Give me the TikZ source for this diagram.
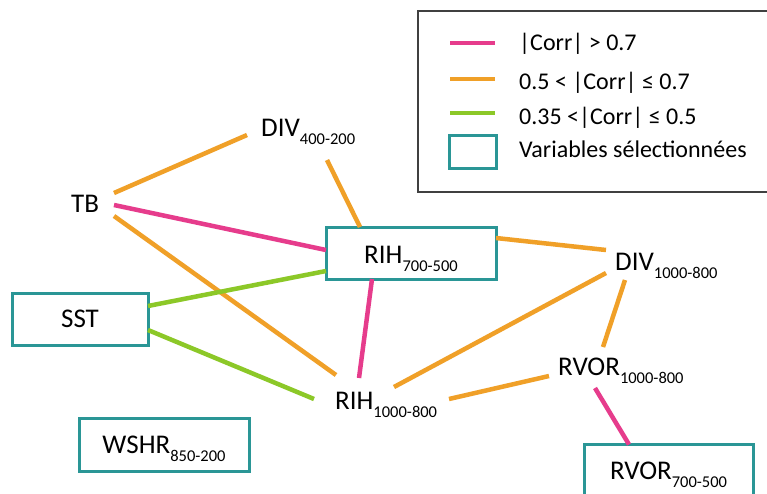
\documentclass[tikz,border=0pt]{standalone}
\usepackage{fontspec}
\setmainfont{Carlito}
\usetikzlibrary{calc}
\definecolor{cpink}{HTML}{E63C8C}
\definecolor{corange}{HTML}{F0A028}
\definecolor{cgreen}{HTML}{8CC828}
\definecolor{cteal}{HTML}{2A9696}
\definecolor{cframe}{HTML}{404040}
\newcommand\subs[1]{\raisebox{-8pt}{\fontsize{16.5}{18}\selectfont #1}}
\begin{document}
\begin{tikzpicture}[x=1pt,y=-1pt,
  lbl/.style={inner sep=0pt, anchor=base west, font=\fontsize{27}{30}\selectfont},
  vbox/.style={draw=cteal, line width=3pt, inner sep=0pt, font=\fontsize{27}{30}\selectfont, text depth=0pt},
  strong/.style={draw=cpink, line width=4.5pt},
  medium/.style={draw=corange, line width=4.5pt},
  weak/.style={draw=cgreen, line width=4.5pt},
  legtext/.style={inner sep=0pt, anchor=base west, font=\fontsize{24}{28}\selectfont}]
\clip (0,0) rectangle (767,493);
\fill[white] (0,0) rectangle (767,493);
% legend
\draw[cframe, line width=1.5pt] (418,11) rectangle (780,192);
\draw[strong] (450,43) -- (495,43);
\draw[medium] (450,79) -- (495,79);
\draw[weak] (450,113) -- (495,113);
\draw[cteal, line width=3pt] (449,135) rectangle (496,168);
\node[legtext] (l1) at (519,50) {|Corr| > 0.7};
\node[legtext] (l2) at (519,89) {0.5 < |Corr| ≤ 0.7};
\node[legtext] (l3) at (519,124) {0.35 <|Corr| ≤ 0.5};
\node[legtext] (l4) at (519,157) {Variables sélectionnées};
% variables
\node[lbl] (tb) at (71,212) {TB};
\node[lbl] (div4) at (261,136) {DIV\subs{400-200}};
\node[lbl] (div1) at (615,270) {DIV\subs{1000-800}};
\node[lbl] (rvor1) at (558,375) {RVOR\subs{1000-800}};
\node[lbl] (rih1) at (335,409) {RIH\subs{1000-800}};
\node[vbox, minimum width=170pt, minimum height=52pt, text height=20pt] (rih7) at (411,253) {RIH\subs{700-500}};
\node[vbox, minimum width=136pt, minimum height=52pt, text height=16pt] (sst) at (80,319) {SST};
\node[vbox, minimum width=170pt, minimum height=53pt, text height=17pt] (wshr) at (164,444.5) {WSHR\subs{850-200}};
\node[vbox, minimum width=169pt, minimum height=53pt, text height=17pt] (rvor7) at (668.5,470.5) {RVOR\subs{700-500}};
% connectors
\draw[medium] ($(tb.base west)+(43,-19)$) -- ($(div4.base west)+(-14,-1)$);
\draw[strong] ($(tb.base west)+(43,-7)$) -- ($(rih7.center)+(-85,-3)$);
\draw[medium] ($(tb.base west)+(43,4)$) -- ($(rih1.base west)+(1,-34)$);
\draw[medium] ($(div4.base west)+(66,24)$) -- ($(rih7.center)+(-51,-26)$);
\draw[medium] ($(rih7.center)+(85,-15)$) -- ($(div1.base west)+(-9,-20)$);
\draw[strong] ($(rih7.center)+(-39,26)$) -- ($(rih1.base west)+(24,-31)$);
\draw[weak] ($(sst.center)+(68,-13)$) -- ($(rih7.center)+(-85,18)$);
\draw[weak] ($(sst.center)+(68,11)$) -- ($(rih1.base west)+(-21,-10)$);
\draw[medium] ($(rih1.base west)+(59,-22)$) -- ($(div1.base west)+(-9,3)$);
\draw[medium] ($(rih1.base west)+(114,-10)$) -- ($(rvor1.base west)+(-9,1)$);
\draw[medium] ($(div1.base west)+(10,10)$) -- ($(rvor1.base west)+(45,-28)$);
\draw[strong] ($(rvor1.base west)+(37,13)$) -- ($(rvor7.center)+(-39.5,-26)$);
\end{tikzpicture}
\end{document}
